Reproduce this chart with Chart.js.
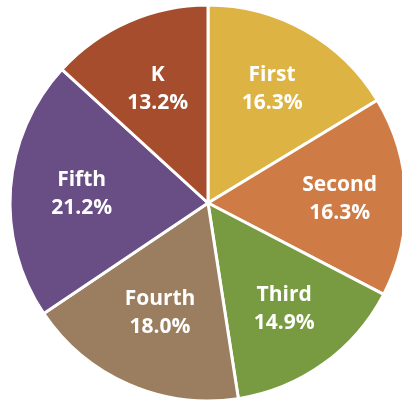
<!DOCTYPE html>
<html><head><meta charset="utf-8">
<script src="https://cdn.jsdelivr.net/npm/chart.js@4.4.0/dist/chart.umd.min.js"></script>
<style>
html,body{margin:0;padding:0;background:#fff;overflow:hidden;width:402px;height:404px;}
#wrap{position:absolute;left:0;top:0;width:416px;height:406px;}
</style></head><body>
<div id="wrap"><canvas id="c" width="416" height="406"></canvas></div>
<script>
const categories = ["First", "Second", "Third", "Fourth", "Fifth", "K"];
const shares = [16.3, 16.3, 14.9, 18.0, 21.2, 13.2];
const valueLabels = ["16.3%", "16.3%", "14.9%", "18.0%", "21.2%", "13.2%"];
const colors = ["#DDB443", "#CE7B45", "#789A41", "#9A7E5F", "#694D85", "#A54D2D"];
const labelRadiusFactor = [0.66, 0.665, 0.66, 0.605, 0.64, 0.63];

const labelPlugin = {
  id: 'sliceLabels',
  afterDatasetsDraw(chart) {
    const ctx = chart.ctx;
    const meta = chart.getDatasetMeta(0);
    ctx.save();
    ctx.fillStyle = '#ffffff';
    ctx.textAlign = 'center';
    ctx.textBaseline = 'middle';
    ctx.font = 'bold 21px "Open Sans", sans-serif';
    meta.data.forEach((arc, i) => {
      const p = arc.getProps(['x','y','startAngle','endAngle','outerRadius'], true);
      const mid = (p.startAngle + p.endAngle) / 2;
      const r = p.outerRadius * labelRadiusFactor[i];
      const x = p.x + Math.cos(mid) * r;
      const y = p.y + Math.sin(mid) * r;
      ctx.fillText(categories[i], x, y - 14);
      ctx.fillText(valueLabels[i], x, y + 14);
    });
    ctx.restore();
  }
};

new Chart(document.getElementById('c'), {
  type: 'pie',
  data: {
    labels: categories,
    datasets: [{
      data: shares,
      backgroundColor: colors,
      borderColor: '#ffffff',
      borderWidth: 3,
      hoverOffset: 0,
      radius: 198
    }]
  },
  options: {
    responsive: false,
    animation: false,
    layout: { padding: 0 },
    plugins: { legend: { display: false }, tooltip: { enabled: false } },
    events: []
  },
  plugins: [labelPlugin]
});
</script>
</body></html>
